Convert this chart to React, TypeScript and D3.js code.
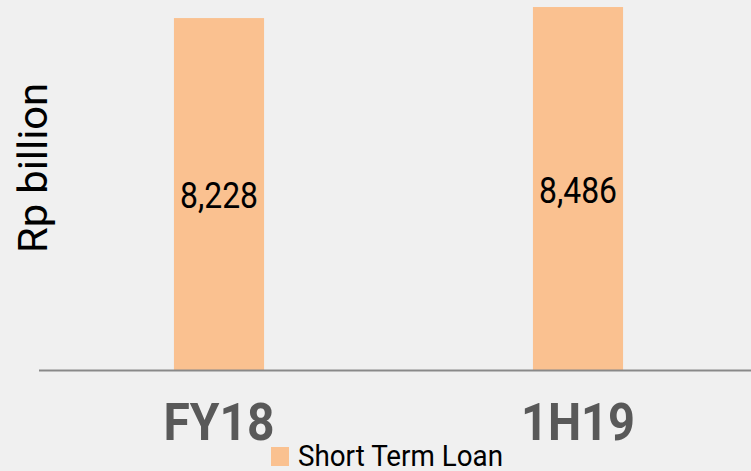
import React from "react";
import * as d3 from "d3";

const categories = ["FY18", "1H19"];
const values = [8228, 8486];
const valueLabels = ["8,228", "8,486"];
const seriesName = "Short Term Loan";
const yAxisTitle = "Rp billion";

const W = 751;
const H = 471;

export default function App() {
  const x = d3
    .scaleBand<string>()
    .domain(categories)
    .range([39.5, 757.5])
    .paddingInner(0.749)
    .paddingOuter(0.3745);
  const y = d3.scaleLinear().domain([0, 8650]).range([370.5, 0]);
  const barColor = "#fac190";
  const fmt = d3.format(",");

  return (
    <svg
      width={W}
      height={H}
      style={{ position: "absolute", left: 0, top: 0, background: "#f0f0f0" }}
      fontFamily="Roboto, sans-serif"
    >
      <rect x={0} y={0} width={W} height={H} fill="#f0f0f0" />
      {categories.map((c, i) => {
        const bx = x(c)!;
        const by = y(values[i]);
        const bh = y(0) - by;
        const mid = by + bh / 2;
        return (
          <g key={c}>
            <rect x={bx} y={by} width={x.bandwidth()} height={bh} fill={barColor} />
            <text
              x={bx + x.bandwidth() / 2}
              y={mid + 14}
              textAnchor="middle"
              fontSize={37}
              fill="#000"
              textLength={78}
              lengthAdjust="spacingAndGlyphs"
            >
              {valueLabels[i] ?? fmt(values[i])}
            </text>
            <text
              x={bx + x.bandwidth() / 2}
              y={440}
              textAnchor="middle"
              fontSize={52}
              fontWeight="bold"
              fill="#595959"
              textLength={i === 0 ? 111 : 114}
              lengthAdjust="spacingAndGlyphs"
            >
              {c}
            </text>
          </g>
        );
      })}
      <line x1={39} x2={W} y1={370.5} y2={370.5} stroke="#898989" strokeWidth={2} />
      <text
        transform="translate(47,168) rotate(-90)"
        textAnchor="middle"
        fontSize={41}
        fill="#000"
        textLength={170}
        lengthAdjust="spacingAndGlyphs"
      >
        {yAxisTitle}
      </text>
      <rect x={271} y={447} width={18} height={19} fill={barColor} />
      <text
        x={298}
        y={465.5}
        fontSize={30}
        fill="#000"
        textLength={205}
        lengthAdjust="spacingAndGlyphs"
      >
        {seriesName}
      </text>
    </svg>
  );
}
